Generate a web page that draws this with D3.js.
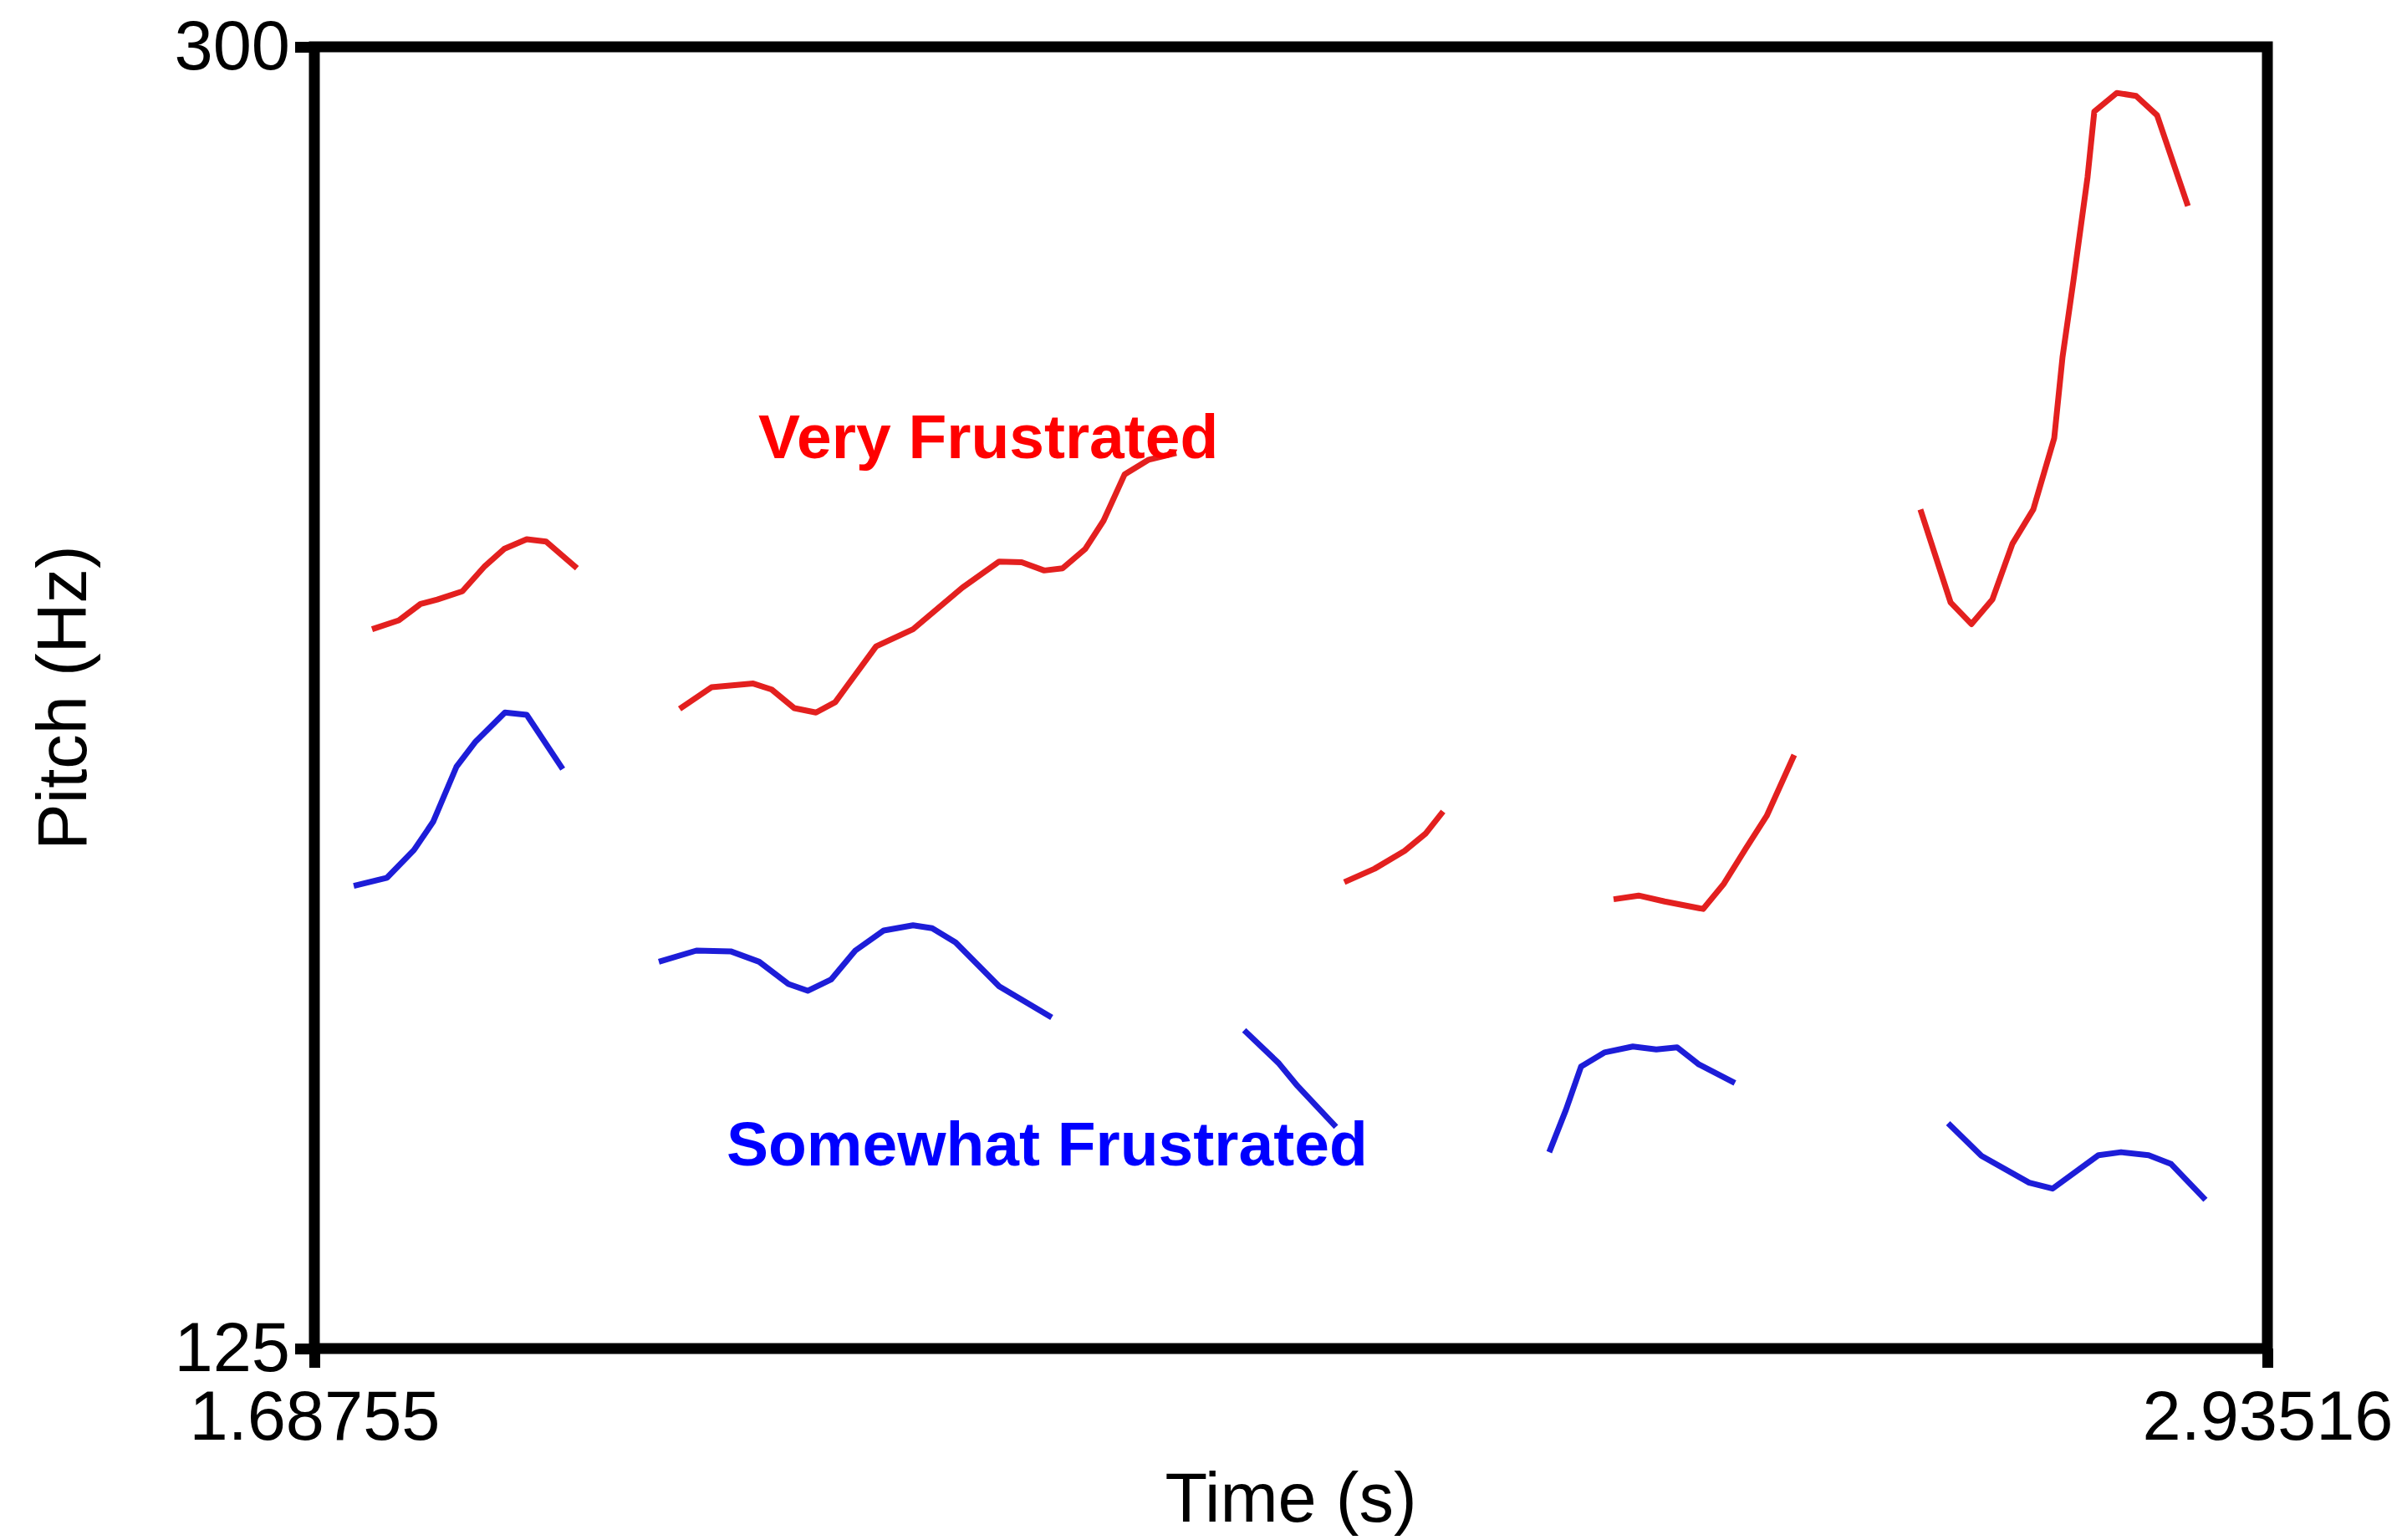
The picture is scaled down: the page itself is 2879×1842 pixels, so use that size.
<!DOCTYPE html>
<html>
<head>
<meta charset="utf-8">
<script src="https://cdn.jsdelivr.net/npm/d3@7"></script>
<style>
	html, body { margin: 0; padding: 0; background: #fff; }
	svg { display: block; }
	text { font-family: "Liberation Sans", Arial, Helvetica, sans-serif; }
</style>
</head>
<body>
<svg id="chart"></svg>
<script>
// ── Data ──────────────────────────────────────────────────────────────────────
const timeDomain  = [1.68755, 2.93516];
const pitchDomain = [125, 300];
const xTicks = [1.68755, 2.93516];
const yTicks = [125, 300];

// pitch tracks, null = unvoiced gap
const veryTime = [
	1.7244, 1.7415, 1.7554, 1.7661, 1.7821, 1.7965, 1.8088, 1.8232, 1.8355, 1.8553, null,
	1.9209, 1.9412, 1.9679, 1.9797, 1.9941, 2.0080, 2.0203, 2.0464, 2.0700, 2.1015,
	2.1250, 2.1394, 2.1538, 2.1656, 2.1800, 2.1917, 2.2051, 2.2206, 2.2382, null,
	2.3455, 2.3648, 2.3840, 2.3973, 2.4086, null,
	2.5175, 2.5335, 2.5501, 2.5747, 2.5880, 2.6019, 2.6153, 2.6329, null,
	2.7135, 2.7328, 2.7461, 2.7595, 2.7723, 2.7856, 2.7990, 2.8043, 2.8113, 2.8203,
	2.8246, 2.8390, 2.8513, 2.8647, 2.8844
];
const veryHz = [
	221.7, 222.9, 225.1, 225.7, 226.8, 230.2, 232.5, 233.8, 233.5, 229.9, null,
	211.0, 213.9, 214.4, 213.6, 211.1, 210.5, 211.9, 219.4, 221.7, 227.3,
	230.8, 230.7, 229.6, 229.9, 232.5, 236.3, 242.5, 244.5, 245.4, null,
	187.7, 189.5, 191.9, 194.2, 197.2, null,
	185.4, 185.9, 185.1, 184.1, 187.5, 192.2, 196.6, 204.8, null,
	237.8, 225.3, 222.4, 225.7, 233.2, 237.8, 247.4, 258.3, 268.6, 282.5,
	291.3, 293.8, 293.4, 290.8, 278.6
];

const somewhatTime = [
	1.7127, 1.7340, 1.7511, 1.7634, 1.7783, 1.7906, 1.8093, 1.8232, 1.8462, null,
	1.9076, 1.9316, 1.9535, 1.9717, 1.9904, 2.0027, 2.0176, 2.0331, 2.0513, 2.0700,
	2.0822, 2.0972, 2.1250, 2.1586, null,
	2.2815, 2.3034, 2.3156, 2.3402, null,
	2.4764, 2.4871, 2.4967, 2.5116, 2.5298, 2.5448, 2.5581, 2.5720, 2.5950, null,
	2.7312, 2.7525, 2.7830, 2.7979, 2.8273, 2.8417, 2.8593, 2.8737, 2.8956
];
const somewhatHz = [
	187.2, 188.3, 192.0, 195.8, 203.2, 206.6, 210.5, 210.2, 202.9, null,
	177.0, 178.5, 178.4, 177.0, 174.0, 173.1, 174.6, 178.5, 181.2, 181.9,
	181.5, 179.6, 173.7, 169.5, null,
	167.8, 163.4, 160.3, 154.8, null,
	151.4, 157.1, 162.9, 164.8, 165.6, 165.2, 165.5, 163.2, 160.7, null,
	155.3, 150.9, 147.3, 146.5, 151.0, 151.4, 151.0, 149.8, 145.0
];

// label anchors in data units [time, pitch]
const labels = [
	{ text: 'Very Frustrated',     at: [1.9712, 244.7], color: '#ff0000' },
	{ text: 'Somewhat Frustrated', at: [1.9508, 149.6], color: '#0000ff' }
];

// ── Layout ────────────────────────────────────────────────────────────────────
const W = 2879, H = 1842;
const margin = { top: 56, right: 167, bottom: 229, left: 376 };
const innerW = W - margin.left - margin.right;
const innerH = H - margin.top - margin.bottom;
const FRAME = 13;
const FONT = 83;

const svg = d3.select('#chart').attr('width', W).attr('height', H);
svg.append('rect').attr('width', W).attr('height', H).attr('fill', '#fff');

const g = svg.append('g').attr('transform', `translate(${margin.left},${margin.top})`);

const x = d3.scaleLinear().domain(timeDomain).range([0, innerW]);
const y = d3.scaleLinear().domain(pitchDomain).range([innerH, 0]);

// ── Pitch tracks ──────────────────────────────────────────────────────────────
function track(times, hz, color) {
	const pts = times.map((t, i) => [t, hz[i]]);
	const line = d3.line()
		.defined(d => d[0] != null && d[1] != null)
		.x(d => x(d[0]))
		.y(d => y(d[1]));
	g.append('path')
		.datum(pts)
		.attr('d', line)
		.attr('fill', 'none')
		.attr('stroke', color)
		.attr('stroke-width', 7)
		.attr('stroke-linejoin', 'round');
}
track(veryTime, veryHz, '#e3201f');
track(somewhatTime, somewhatHz, '#1d1dd8');

// ── Frame and axes ────────────────────────────────────────────────────────────
g.append('rect')
	.attr('width', innerW).attr('height', innerH)
	.attr('fill', 'none')
	.attr('stroke', '#000')
	.attr('stroke-width', FRAME)
	.attr('stroke-linejoin', 'miter');

const yAxis = g.append('g')
	.call(d3.axisLeft(y).tickValues(yTicks).tickSize(23).tickSizeOuter(0).tickPadding(6).tickFormat(d3.format('d')));
const xAxis = g.append('g')
	.attr('transform', `translate(0,${innerH})`)
	.call(d3.axisBottom(x).tickValues(xTicks).tickSize(23).tickSizeOuter(0).tickPadding(27).tickFormat(d => d.toFixed(5)));

[yAxis, xAxis].forEach(ax => {
	ax.select('.domain').remove();
	ax.selectAll('.tick line').attr('stroke', '#000').attr('stroke-width', FRAME);
	ax.selectAll('.tick text')
		.attr('fill', '#000')
		.attr('font-size', FONT)
		.attr('font-family', '"Liberation Sans", Arial, Helvetica, sans-serif');
});

// axis titles
svg.append('text')
	.attr('x', margin.left + innerW / 2)
	.attr('y', 1820)
	.attr('text-anchor', 'middle')
	.attr('font-size', FONT)
	.attr('fill', '#000')
	.text('Time (s)');

svg.append('text')
	.attr('transform', `translate(103,${margin.top + innerH / 2}) rotate(-90)`)
	.attr('text-anchor', 'middle')
	.attr('font-size', FONT)
	.attr('fill', '#000')
	.text('Pitch (Hz)');

// ── Series labels ─────────────────────────────────────────────────────────────
g.selectAll('.series-label')
	.data(labels)
	.join('text')
	.attr('class', 'series-label')
	.attr('x', d => x(d.at[0]))
	.attr('y', d => y(d.at[1]))
	.attr('fill', d => d.color)
	.attr('font-size', 75)
	.attr('font-weight', 'bold')
	.text(d => d.text);
</script>
</body>
</html>
